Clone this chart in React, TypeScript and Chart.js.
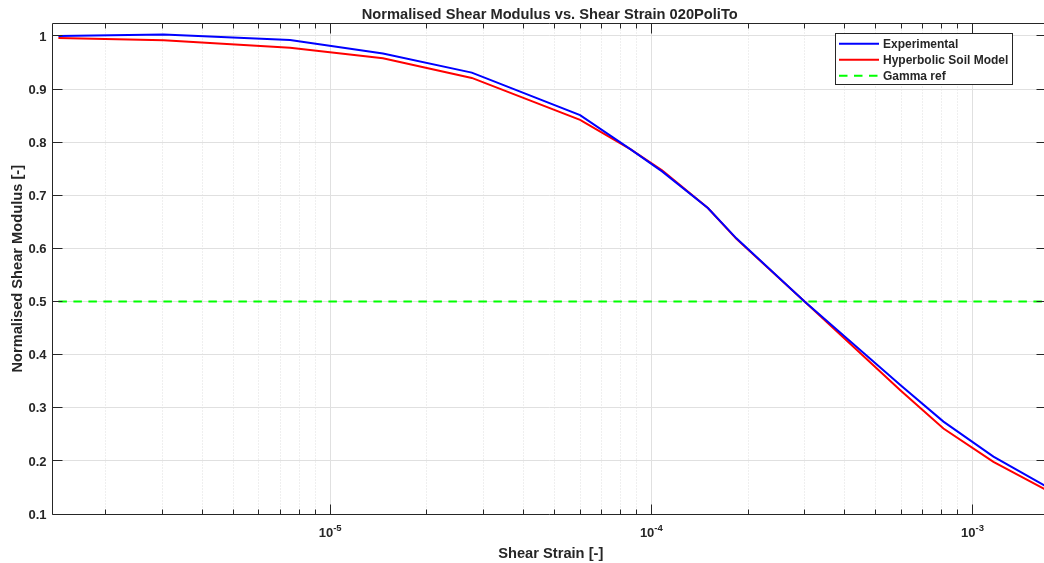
import { useEffect, useRef } from "react";
import { Chart, registerables } from "chart.js";

Chart.register(...registerables);

const VIEW_W = 1044;
const CANVAS_W = 1047;
const CANVAS_H = 563;

// ---- data ----
const strain = [
  1.425e-6, 3.03e-6, 7.5e-6, 1.46e-5, 2.76e-5, 6.0e-5, 8.6e-5, 1.08e-4,
  1.5e-4, 1.84e-4, 3.0e-4, 5.96e-4, 8.12e-4, 1.162e-3, 1.706e-3,
];
const experimental = [
  1.0, 1.003, 0.9925, 0.967, 0.931, 0.851, 0.787, 0.745, 0.676, 0.619, 0.5,
  0.343, 0.274, 0.208, 0.151,
];
const hyperbolic = [
  0.996, 0.992, 0.978, 0.958, 0.921, 0.842, 0.787, 0.747, 0.676, 0.618, 0.5,
  0.333, 0.261, 0.198, 0.1445,
];
const gammaRefStrain = [1.425e-6, 1.706e-3];
const gammaRefValue = [0.5, 0.5];

const seriesLabels = ["Experimental", "Hyperbolic Soil Model", "Gamma ref"];
const seriesColors = ["#0000ff", "#ff0000", "#00ff00"];

const xMin = 1.366e-6;
const xMax = 1.706e-3;
const yMin = 0.1;
const yMax = 1.0235;

const yTicks = [0.1, 0.2, 0.3, 0.4, 0.5, 0.6, 0.7, 0.8, 0.9, 1.0];
const yTickLabels = ["0.1", "0.2", "0.3", "0.4", "0.5", "0.6", "0.7", "0.8", "0.9", "1"];
const xMajorTicks = [1e-5, 1e-4, 1e-3];
const xMajorExponents = ["-5", "-4", "-3"];
const xMinorMantissas = [2, 3, 4, 5, 6, 7, 8, 9];
const xMinorDecades = [1e-6, 1e-5, 1e-4, 1e-3];

const titleText = "Normalised Shear Modulus vs. Shear Strain 020PoliTo";
const xAxisTitle = "Shear Strain [-]";
const yAxisTitle = "Normalised Shear Modulus [-]";

const FONT = '"Liberation Sans", Arial, Helvetica, sans-serif';
const TEXT = "#262626";

const xMinorTicks: number[] = [];
for (const d of xMinorDecades) {
  for (const m of xMinorMantissas) {
    const v = m * d;
    if (v > xMin && v < xMax) xMinorTicks.push(v);
  }
}

const crisp = (v: number) => Math.floor(v) + 0.5;

const matlabAxes = {
  id: "matlabAxes",
  beforeDatasetsDraw(chart: any) {
    const { ctx, chartArea: a, scales } = chart;
    const x = scales.x;
    const y = scales.y;
    ctx.save();
    ctx.lineWidth = 1;
    // minor x grid (dotted)
    ctx.strokeStyle = "rgba(38,38,38,0.15)";
    ctx.setLineDash([1, 2]);
    for (const v of xMinorTicks) {
      const px = crisp(x.getPixelForValue(v));
      ctx.beginPath();
      ctx.moveTo(px, a.top);
      ctx.lineTo(px, a.bottom);
      ctx.stroke();
    }
    ctx.setLineDash([]);
    // major grid
    ctx.strokeStyle = "#e0e0e0";
    for (const v of xMajorTicks) {
      const px = crisp(x.getPixelForValue(v));
      ctx.beginPath();
      ctx.moveTo(px, a.top);
      ctx.lineTo(px, a.bottom);
      ctx.stroke();
    }
    for (const v of yTicks) {
      const py = crisp(y.getPixelForValue(v));
      ctx.beginPath();
      ctx.moveTo(a.left, py);
      ctx.lineTo(a.right, py);
      ctx.stroke();
    }
    ctx.restore();
  },
  afterDatasetsDraw(chart: any) {
    const { ctx, chartArea: a, scales, data } = chart;
    const x = scales.x;
    const y = scales.y;
    ctx.save();
    ctx.strokeStyle = TEXT;
    ctx.fillStyle = TEXT;
    ctx.lineWidth = 1;
    const L = crisp(a.left);
    const R = crisp(a.right) - 1;
    const T = crisp(a.top);
    const B = crisp(a.bottom);
    // box
    ctx.beginPath();
    ctx.moveTo(L, T);
    ctx.lineTo(R, T);
    ctx.lineTo(R, B);
    ctx.lineTo(L, B);
    ctx.closePath();
    ctx.stroke();
    // ticks (inward)
    ctx.beginPath();
    for (const v of xMinorTicks) {
      const px = crisp(x.getPixelForValue(v));
      ctx.moveTo(px, B);
      ctx.lineTo(px, B - 5);
      ctx.moveTo(px, T);
      ctx.lineTo(px, T + 5);
    }
    for (const v of xMajorTicks) {
      const px = crisp(x.getPixelForValue(v));
      ctx.moveTo(px, B);
      ctx.lineTo(px, B - 10);
      ctx.moveTo(px, T);
      ctx.lineTo(px, T + 10);
    }
    for (const v of yTicks) {
      const py = crisp(y.getPixelForValue(v));
      ctx.moveTo(L, py);
      ctx.lineTo(L + 10, py);
      ctx.moveTo(R, py);
      ctx.lineTo(R - 10, py);
    }
    ctx.stroke();

    // y tick labels
    ctx.font = `bold 13px ${FONT}`;
    ctx.textAlign = "right";
    ctx.textBaseline = "alphabetic";
    yTicks.forEach((v, i) => {
      const py = y.getPixelForValue(v);
      ctx.fillText(yTickLabels[i], a.left - 6, py + 4.7);
    });

    // x tick labels 10^n
    xMajorTicks.forEach((v, i) => {
      const px = x.getPixelForValue(v);
      ctx.font = `bold 13px ${FONT}`;
      const wBase = ctx.measureText("10").width;
      ctx.font = `bold 9.5px ${FONT}`;
      const wExp = ctx.measureText(xMajorExponents[i]).width;
      const start = px - (wBase + wExp) / 2;
      ctx.textAlign = "left";
      ctx.font = `bold 13px ${FONT}`;
      ctx.fillText("10", start, 537.3);
      ctx.font = `bold 9.5px ${FONT}`;
      ctx.fillText(xMajorExponents[i], start + wBase, 530.5);
    });

    // titles (centred on the visible plot width, as in the reference)
    const cx = (a.left + VIEW_W) / 2;
    ctx.textAlign = "center";
    ctx.font = `bold 14.67px ${FONT}`;
    ctx.fillText(titleText, cx + 1.5, 18.8);
    ctx.fillText(xAxisTitle, cx + 2.5, 558);
    ctx.save();
    ctx.translate(22, (a.top + a.bottom) / 2);
    ctx.rotate(-Math.PI / 2);
    ctx.fillText(yAxisTitle, 0, 0);
    ctx.restore();

    // legend
    const lx = 835.5, ly = 33.5, lw = 177, lh = 51;
    ctx.fillStyle = "#ffffff";
    ctx.fillRect(lx, ly, lw, lh);
    ctx.strokeStyle = TEXT;
    ctx.strokeRect(lx, ly, lw, lh);
    ctx.font = `bold 12px ${FONT}`;
    ctx.textAlign = "left";
    data.datasets.forEach((ds: any, i: number) => {
      const rowY = 43.7 + i * 16;
      ctx.save();
      ctx.strokeStyle = ds.borderColor;
      ctx.lineWidth = 2;
      ctx.setLineDash(ds.borderDash || []);
      ctx.beginPath();
      ctx.moveTo(839, rowY);
      ctx.lineTo(879, rowY);
      ctx.stroke();
      ctx.restore();
      ctx.fillStyle = TEXT;
      ctx.fillText(ds.label, 883, rowY + 4.3);
    });
    ctx.restore();
  },
};

export default function App() {
  const canvasRef = useRef<HTMLCanvasElement | null>(null);

  useEffect(() => {
    document.body.style.margin = "0";
    document.body.style.overflow = "hidden";
    const canvas = canvasRef.current;
    if (!canvas) return;
    const chart = new Chart(canvas, {
      type: "line",
      data: {
        datasets: [
          {
            label: seriesLabels[0],
            data: strain.map((s, i) => ({ x: s, y: experimental[i] })),
            borderColor: seriesColors[0],
            borderWidth: 2,
            pointRadius: 0,
            tension: 0,
            fill: false,
          },
          {
            label: seriesLabels[1],
            data: strain.map((s, i) => ({ x: s, y: hyperbolic[i] })),
            borderColor: seriesColors[1],
            borderWidth: 2,
            pointRadius: 0,
            tension: 0,
            fill: false,
          },
          {
            label: seriesLabels[2],
            data: gammaRefStrain.map((s, i) => ({ x: s, y: gammaRefValue[i] })),
            borderColor: seriesColors[2],
            borderWidth: 2,
            borderDash: [8.5, 6.5],
            pointRadius: 0,
            tension: 0,
            fill: false,
          },
        ],
      },
      options: {
        responsive: false,
        animation: false,
        devicePixelRatio: 1,
        layout: { padding: { left: 52.5, top: 23.5, right: 0, bottom: 49 } },
        scales: {
          x: { type: "logarithmic", min: xMin, max: xMax, display: false },
          y: { type: "linear", min: yMin, max: yMax, display: false },
        },
        plugins: {
          legend: { display: false },
          title: { display: false },
          tooltip: { enabled: false },
        },
      },
      plugins: [matlabAxes],
    });
    return () => chart.destroy();
  }, []);

  return (
    <div style={{ width: VIEW_W, height: CANVAS_H, overflow: "hidden", background: "#ffffff" }}>
      <canvas ref={canvasRef} width={CANVAS_W} height={CANVAS_H} style={{ display: "block" }} />
    </div>
  );
}
